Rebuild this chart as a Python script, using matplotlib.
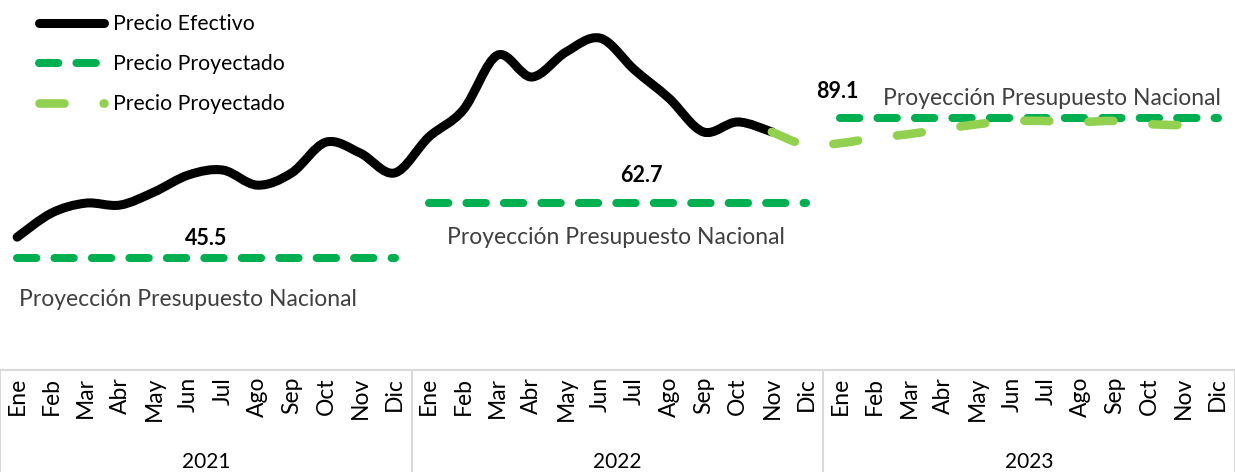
import numpy as np
import matplotlib.pyplot as plt
from matplotlib.path import Path
from matplotlib.patches import PathPatch
from matplotlib.lines import Line2D
from matplotlib import transforms

plt.rcParams['font.family'] = ['Lato', 'DejaVu Sans']

months = ['Ene', 'Feb', 'Mar', 'Abr', 'May', 'Jun', 'Jul', 'Ago', 'Sep', 'Oct', 'Nov', 'Dic']
years = ['2021', '2022', '2023']

# Ene 2021 - Nov 2022
precio_efectivo = [52.0, 59.5, 62.6, 62.0, 66.1, 71.4, 72.9, 68.2, 72.0, 81.6, 78.2, 72.0,
                   83.2, 91.6, 108.7, 101.9, 109.7, 114.0, 104.1, 95.3, 84.8, 87.9, 84.8]
# Nov 2022 - Nov 2023
precio_proyectado = [84.8, 80.7, 81.3, 82.9, 84.1, 85.7, 87.2, 88.2, 88.2, 87.9, 88.2, 87.2, 86.9]
presupuesto = [45.5, 62.7, 89.1]

black = '#000000'
dark_green = '#00B050'
light_green = '#92D050'
grid_gray = '#D9D9D9'


def smooth_path(x, y):
    # Catmull-Rom style bezier through the points (like Excel smoothed lines)
    pts = np.column_stack([x, y]).astype(float)
    n = len(pts)
    verts = [pts[0]]
    codes = [Path.MOVETO]
    for i in range(n - 1):
        p0 = pts[max(i - 1, 0)]
        p1 = pts[i]
        p2 = pts[i + 1]
        p3 = pts[min(i + 2, n - 1)]
        verts += [p1 + (p2 - p0) / 6, p2 - (p3 - p1) / 6, p2]
        codes += [Path.CURVE4] * 3
    return Path(verts, codes)


fig = plt.figure(figsize=(12.35, 4.72), dpi=100)
ax = fig.add_axes([0, 102 / 472, 1, 370 / 472])
ax.set_xlim(-0.5, 35.5)
ax.set_ylim(10.6, 125.9)
for s in ax.spines.values():
    s.set_visible(False)
ax.set_yticks([])

# budget lines
for i, val in enumerate(presupuesto):
    xs = np.arange(12 * i, 12 * i + 12)
    ax.plot(xs, [val] * 12, color=dark_green, lw=5.8, dashes=(2.4, 2.25),
            dash_capstyle='round', zorder=2)

# effective price
x_ef = np.arange(len(precio_efectivo))
p1 = PathPatch(smooth_path(x_ef, precio_efectivo), fill=False, edgecolor=black,
               lw=6.5, capstyle='round', joinstyle='round', zorder=3)
ax.add_patch(p1)

# projected price
x_pr = np.arange(22, 22 + len(precio_proyectado))
p2 = PathPatch(smooth_path(x_pr, precio_proyectado), fill=False, edgecolor=light_green,
               lw=6.2, linestyle=(0, (2.9, 4.55)), capstyle='round', joinstyle='round', zorder=4)
ax.add_patch(p2)

# labels
lab_pos = [(5.5, 14), (18.2, 20), (23.9, 19)]
for val, (xv, dy) in zip(presupuesto, lab_pos):
    ax.annotate(f'{val:.1f}', (xv, val), xytext=(0, dy), textcoords='offset points',
                ha='center', va='center', fontsize=15.5, fontweight='bold', color=black)

txt_pos = [(4.98, -30), (17.46, -25), (30.17, 14)]
for val, (xv, dy) in zip(presupuesto, txt_pos):
    ax.annotate('Proyección Presupuesto Nacional', (xv, val), xytext=(0, dy),
                textcoords='offset points', ha='center', va='center',
                fontsize=16.5, color='#404040')

# category axis
ax.set_xticks(np.arange(36))
ax.set_xticklabels(months * 3, rotation=90, fontsize=16.5)
ax.tick_params(axis='x', length=0, pad=5)

trans = transforms.blended_transform_factory(ax.transData, ax.transAxes)
for i, yr in enumerate(years):
    ax.text(12 * i + 5.5, -0.249, yr, transform=trans, ha='center', va='center', fontsize=15)
ax.plot([-0.5, 35.5], [0, 0], transform=trans, color=grid_gray, lw=1.5, clip_on=False)
for xb in [-0.5, 11.5, 23.5, 35.5]:
    ax.plot([xb, xb], [0, -0.3], transform=trans, color=grid_gray, lw=1.5, clip_on=False)

# legend
handles = [
    Line2D([], [], color=black, lw=6.5, solid_capstyle='round'),
    Line2D([], [], color=dark_green, lw=5.8, dashes=(2.4, 2.25), dash_capstyle='round'),
    Line2D([], [], color=light_green, lw=6.2, dashes=(2.9, 4.55), dash_capstyle='round'),
]
labels = ['Precio Efectivo', 'Precio Proyectado', 'Precio Proyectado']
ax.legend(handles, labels, loc='upper left', bbox_to_anchor=(39 / 1235, 1 - 14 / 472),
          bbox_transform=fig.transFigure, frameon=False, fontsize=15.3, borderpad=0,
          borderaxespad=0, handlelength=3.05, handletextpad=0.45, labelspacing=0.95)

fig.savefig('out.png', dpi=100)
